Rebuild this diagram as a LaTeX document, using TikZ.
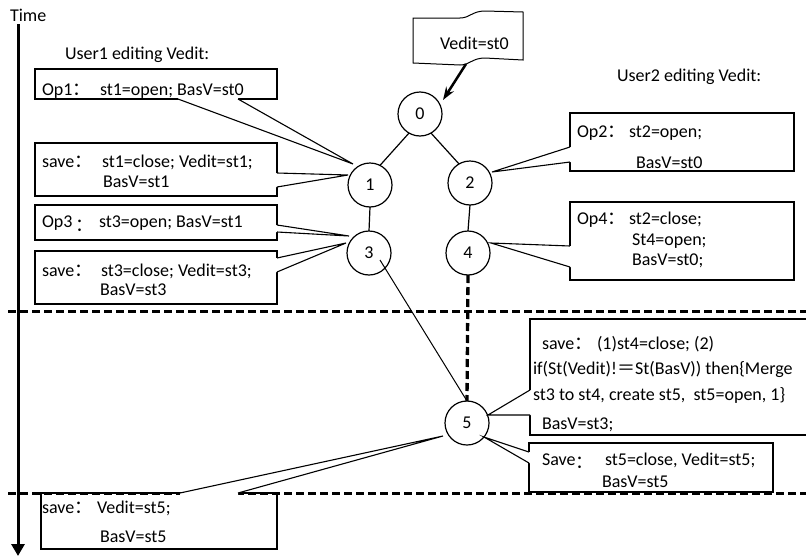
\documentclass[tikz,border=0pt]{standalone}
\usepackage{fontspec}
\setmainfont{Carlito}
\newfontfamily\cjk{Noto Sans CJK SC}
\usetikzlibrary{arrows.meta,calc}
% full-width punctuation
\newcommand\fw[1]{{\cjk #1}}
% pointer of a callout box: base points #1,#2, inward shift #3, tip #4
\newcommand\calltail[4]{%
  \fill[white] ($#1+#3$) -- #1 -- #4 -- #2 -- ($#2+#3$) -- cycle;
  \draw[tail] #1 -- #4 -- #2;}

\begin{document}
\begin{tikzpicture}[x=1pt,y=-1pt,
  font=\fontsize{18}{21}\selectfont,
  every node/.style={inner sep=0pt, outer sep=0pt},
  txt/.style={anchor=base west},
  state/.style={draw, circle, minimum size=44pt, line width=1.2pt},
  link/.style={line width=1.2pt},
  merge/.style={line width=3.3pt, dash pattern=on 8pt off 4pt},
  box/.style={draw, fill=white, line width=1.1pt, anchor=north west},
  tail/.style={line width=1.1pt, line join=miter},
  sep/.style={line width=3pt, dash pattern=on 8pt off 4pt},
  axis/.style={line width=3pt, -{Triangle[length=12pt,width=13pt]}},
  docarrow/.style={line width=2.5pt, -{Stealth[length=13pt,width=9pt]}},
]
\useasboundingbox (0,0) rectangle (806,557);

% time axis
\node[txt] (time) at (10,21) {Time};
\coordinate (axtop) at (18,24);
\coordinate (axbot) at (18,556);
\draw[axis] (axtop) -- (axbot);

% headings
\node[txt] (u1) at (65,59) {User1 editing Vedit:};
\node[txt] (u2) at (617,81) {User2 editing Vedit:};

% version graph
\node[state] (n0) at (420,114) {0};
\node[state] (n1) at (370,185) {1};
\node[state] (n2) at (470,183) {2};
\node[state] (n3) at (369,253) {3};
\node[state] (n4) at (468,253) {4};
\node[state] (n5) at (467,423) {5};

\draw[link] (n0.240) -- (n1.63);
\draw[link] (n0.300) -- (n2.120);
\draw[link] (n1.south) -- (n3.north);
\draw[link] (n2.south) -- (n4.north);
\coordinate (n3in) at ($(n3)+(11,7)$);
\draw[line width=1pt] (n3in) -- (n5.north);
\draw[merge] (n4.south) -- (n5.north);

% initial version flag
\draw[line width=1pt, fill=white] (413,18) -- (460,18) .. controls (470,18) and (472,11) .. (485,11) -- (523,12)
  -- (523,60) -- (485,58) .. controls (472,58) and (470,65) .. (460,65) -- (413,63) -- cycle;
\node[txt] (doc) at (440,49) {Vedit=st0};
\coordinate (docfoot) at (466,64);
\coordinate (n0hit) at ($(n0)+(23,-14)$);
\draw[docarrow] (docfoot) -- (n0hit);

% user 1 boxes
\node[box, minimum width=242pt, minimum height=30pt] (op1) at (35,69) {};
\node[txt] (op1k) at (42,95) {Op1\fw{：}};
\node[txt] (op1v) at (100,95) {st1=open; BasV=st0};

\node[box, minimum width=242pt, minimum height=53pt] (sv1) at (35,143) {};
\node[txt] (sv1k) at (42,167) {save\fw{：}};
\node[txt] (sv1v) at (102,167) {st1=close; Vedit=st1;};
\node[txt] (sv1w) at (103,187) {BasV=st1};

\node[box, minimum width=242pt, minimum height=35pt] (op3) at (35,205) {};
\node[txt] (op3k) at (42,227) {Op3\,\raisebox{-4pt}{\fw{：}}};
\node[txt] (op3v) at (99,227) {st3=open; BasV=st1};

\node[box, minimum width=242pt, minimum height=53pt] (sv3) at (35,251) {};
\node[txt] (sv3k) at (42,276) {save\fw{：}};
\node[txt] (sv3v) at (101,276) {st3=close; Vedit=st3;};
\node[txt] (sv3w) at (100,295) {BasV=st3};

% user 2 boxes
\node[box, minimum width=224pt, minimum height=58pt] (op2) at (570,113) {};
\node[txt] (op2k) at (577,137) {Op2\fw{：}};
\node[txt] (op2v) at (629,137) {st2=open;};
\node[txt] (op2w) at (636,168) {BasV=st0};

\node[box, minimum width=224pt, minimum height=78pt] (op4) at (570,202) {};
\node[txt] (op4k) at (577,224) {Op4\fw{：}};
\node[txt] (op4v) at (629,224) {st2=close;};
\node[txt] (op4w) at (632,245) {St4=open;};
\node[txt] (op4x) at (632,265) {BasV=st0;};

% merge and final saves
\node[box, minimum width=290pt, minimum height=116pt] (sv4) at (530,319) {};
\node[txt] (sv4k) at (542,349) {save\fw{：}};
\node[txt] (sv4v) at (597,349) {(1)st4=close; (2)};
\node[txt] (sv4w) at (533,374) {if(St(Vedit)!\fw{＝}St(BasV)) then\{Merge};
\node[txt] (sv4x) at (533,400) {st3 to st4, create st5,\ \ st5=open, 1\}};
\node[txt] (sv4y) at (542,429) {BasV=st3;};

\node[box, minimum width=244pt, minimum height=49pt] (sv5) at (529,443) {};
\node[txt] (sv5k) at (542,465) {Save\raisebox{-3pt}{\fw{：}}};
\node[txt] (sv5v) at (605,465) {st5=close, Vedit=st5;};
\node[txt] (sv5w) at (602,487) {BasV=st5};

\node[box, minimum width=236pt, minimum height=56pt] (svv) at (41,493) {};
\node[txt] (svvk) at (42,513) {save\fw{：}};
\node[txt] (svvv) at (97,513) {Vedit=st5;};
\node[txt] (svvw) at (100,542) {BasV=st5};

% phase separators
\coordinate (s1a) at (8,311);
\coordinate (s1b) at (806,311);
\draw[sep] (s1a) -- (s1b);
\coordinate (s2a) at (8,493);
\coordinate (s2b) at (806,493);
\draw[sep] (s2a) -- (s2b);

% callout pointers
\coordinate (op1a) at (178,99);  \coordinate (op1b) at (238,99);  \coordinate (op1t) at (353,164);
\calltail{(op1a)}{(op1b)}{(0,-2)}{(op1t)}
\coordinate (sv1a) at (277,173); \coordinate (sv1b) at (277,187); \coordinate (sv1t) at (348,175);
\calltail{(sv1a)}{(sv1b)}{(-2,0)}{(sv1t)}
\coordinate (op3a) at (277,225); \coordinate (op3b) at (277,232); \coordinate (op3t) at (349,236);
\calltail{(op3a)}{(op3b)}{(-2,0)}{(op3t)}
\coordinate (sv3a) at (277,258); \coordinate (sv3b) at (277,272); \coordinate (sv3t) at (346,243);
\calltail{(sv3a)}{(sv3b)}{(-2,0)}{(sv3t)}
\coordinate (op2a) at (570,147); \coordinate (op2b) at (570,162); \coordinate (op2t) at (492,172);
\calltail{(op2a)}{(op2b)}{(2,0)}{(op2t)}
\coordinate (op4a) at (570,246); \coordinate (op4b) at (570,267); \coordinate (op4t) at (491,243);
\calltail{(op4a)}{(op4b)}{(2,0)}{(op4t)}
\coordinate (sv4a) at (530,390); \coordinate (sv4b) at (530,415); \coordinate (sv4t) at (488,415);
\calltail{(sv4a)}{(sv4b)}{(2,0)}{(sv4t)}
\coordinate (sv5a) at (529,452); \coordinate (sv5b) at (529,463); \coordinate (sv5t) at (484,437);
\calltail{(sv5a)}{(sv5b)}{(2,0)}{(sv5t)}
\coordinate (svva) at (180,493); \coordinate (svvb) at (238,493); \coordinate (svvt) at (443,436);
\calltail{(svva)}{(svvb)}{(0,2)}{(svvt)}
\end{tikzpicture}
\end{document}
